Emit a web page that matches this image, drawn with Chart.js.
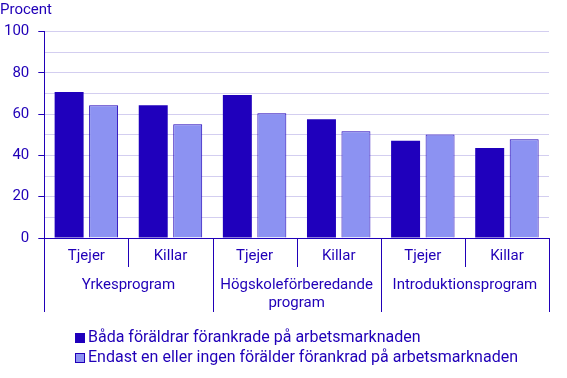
<!DOCTYPE html>
<html lang="sv">
<head>
    <meta charset="UTF-8">
    <title>Procent efter program och kön</title>
    <script src="https://cdn.jsdelivr.net/npm/chart.js"></script>
    <style>
        body {
            margin: 0;
            background-color: #ffffff;
        }
        .chart-box {
            width: 567px;
            height: 378px;
        }
    </style>
</head>
<body>
    <div class="chart-box">
        <canvas id="program-chart" width="567" height="378"></canvas>
    </div>

    <script>
        // Data
        const categories = ['Tjejer', 'Killar', 'Tjejer', 'Killar', 'Tjejer', 'Killar'];
        const programs = ['Yrkesprogram', ['Högskoleförberedande', 'program'], 'Introduktionsprogram'];
        const seriesNames = [
            'Båda föräldrar förankrade på arbetsmarknaden',
            'Endast en eller ingen förälder förankrad på arbetsmarknaden'
        ];
        const bothAnchored = [70.8, 64.3, 69.3, 57.6, 47.1, 43.6];
        const notAnchored = [64.3, 55.1, 60.5, 51.8, 50.2, 47.9];

        const ink = '#2000b8';
        const darkBar = '#1f00bc';
        const lightBar = '#8c92f2';
        const gridColor = '#d3cef0';
        const fontFamily = 'Roboto, "Liberation Sans", Arial, sans-serif';

        // vertical divider lines under the x axis (categories and program groups)
        const axisDividers = {
            id: 'axisDividers',
            afterDraw(chart) {
                const {ctx, chartArea} = chart;
                const x = chart.scales.x;
                const step = (x.right - x.left) / categories.length;
                ctx.save();
                ctx.strokeStyle = ink;
                ctx.lineWidth = 1;
                for (let i = 0; i <= categories.length; i++) {
                    const px = Math.round(x.left + i * step) + 0.5;
                    const end = i % 2 === 0 ? 312 : 267;
                    ctx.beginPath();
                    ctx.moveTo(px, chartArea.bottom);
                    ctx.lineTo(px, end);
                    ctx.stroke();
                }
                ctx.restore();
            }
        };

        // legend: left aligned block, centred under the plot
        const blockLegend = {
            id: 'blockLegend',
            afterDraw(chart) {
                const {ctx, chartArea} = chart;
                const sets = chart.data.datasets;
                ctx.save();
                ctx.font = '16px ' + fontFamily;
                let widest = 0;
                sets.forEach(ds => { widest = Math.max(widest, ctx.measureText(ds.label).width); });
                const startX = Math.round((chartArea.left + chartArea.right) / 2 - (13 + widest) / 2);
                ctx.textBaseline = 'middle';
                ctx.textAlign = 'left';
                sets.forEach((ds, i) => {
                    const cy = 338 + i * 20;
                    ctx.fillStyle = ds.backgroundColor;
                    ctx.fillRect(startX, cy - 5, 10, 10);
                    if (ds.borderWidth) {
                        ctx.strokeStyle = ds.borderColor;
                        ctx.lineWidth = 1;
                        ctx.strokeRect(startX + 0.5, cy - 4.5, 9, 9);
                    }
                    ctx.fillStyle = ink;
                    ctx.fillText(ds.label, startX + 13, cy);
                });
                ctx.restore();
            }
        };

        const ctx = document.getElementById('program-chart').getContext('2d');

        new Chart(ctx, {
            type: 'bar',
            data: {
                labels: categories,
                datasets: [
                    {
                        label: seriesNames[0],
                        data: bothAnchored,
                        backgroundColor: darkBar,
                        borderWidth: 0,
                        categoryPercentage: 0.82,
                        barPercentage: 0.84
                    },
                    {
                        label: seriesNames[1],
                        data: notAnchored,
                        backgroundColor: lightBar,
                        borderColor: ink,
                        borderWidth: 1,
                        categoryPercentage: 0.82,
                        barPercentage: 0.84
                    }
                ]
            },
            options: {
                responsive: false,
                animation: false,
                layout: {
                    padding: { left: 0, right: 18, top: 0, bottom: 64 }
                },
                plugins: {
                    legend: { display: false },
                    tooltip: { enabled: false },
                    title: {
                        display: true,
                        text: 'Procent',
                        align: 'start',
                        color: ink,
                        font: { family: fontFamily, size: 15, weight: 'normal' },
                        padding: { top: 1, bottom: 12.7 }
                    }
                },
                scales: {
                    y: {
                        min: 0,
                        max: 100,
                        afterFit(scale) { scale.width = 44.3; },
                        ticks: {
                            stepSize: 10,
                            autoSkip: false,
                            padding: 9,
                            color: ink,
                            font: { family: fontFamily, size: 15 },
                            callback: v => (v % 20 === 0 ? v : '')
                        },
                        grid: {
                            color: c => (c.tick && c.tick.value === 0 ? ink : gridColor),
                            tickColor: c => (c.tick && c.tick.value % 20 === 0 ? ink : 'rgba(0,0,0,0)'),
                            tickLength: 6
                        },
                        border: { color: ink, width: 1 }
                    },
                    x: {
                        position: 'bottom',
                        grid: { display: false, drawTicks: false },
                        border: { color: ink, width: 1 },
                        ticks: {
                            padding: 9,
                            maxRotation: 0,
                            autoSkip: false,
                            color: ink,
                            font: { family: fontFamily, size: 15 }
                        }
                    },
                    x2: {
                        type: 'category',
                        position: 'bottom',
                        labels: programs,
                        offset: true,
                        grid: { display: false, drawTicks: false },
                        border: { display: false },
                        ticks: {
                            padding: 2,
                            maxRotation: 0,
                            autoSkip: false,
                            color: ink,
                            font: { family: fontFamily, size: 15 }
                        }
                    }
                }
            },
            plugins: [axisDividers, blockLegend]
        });
    </script>
</body>
</html>
